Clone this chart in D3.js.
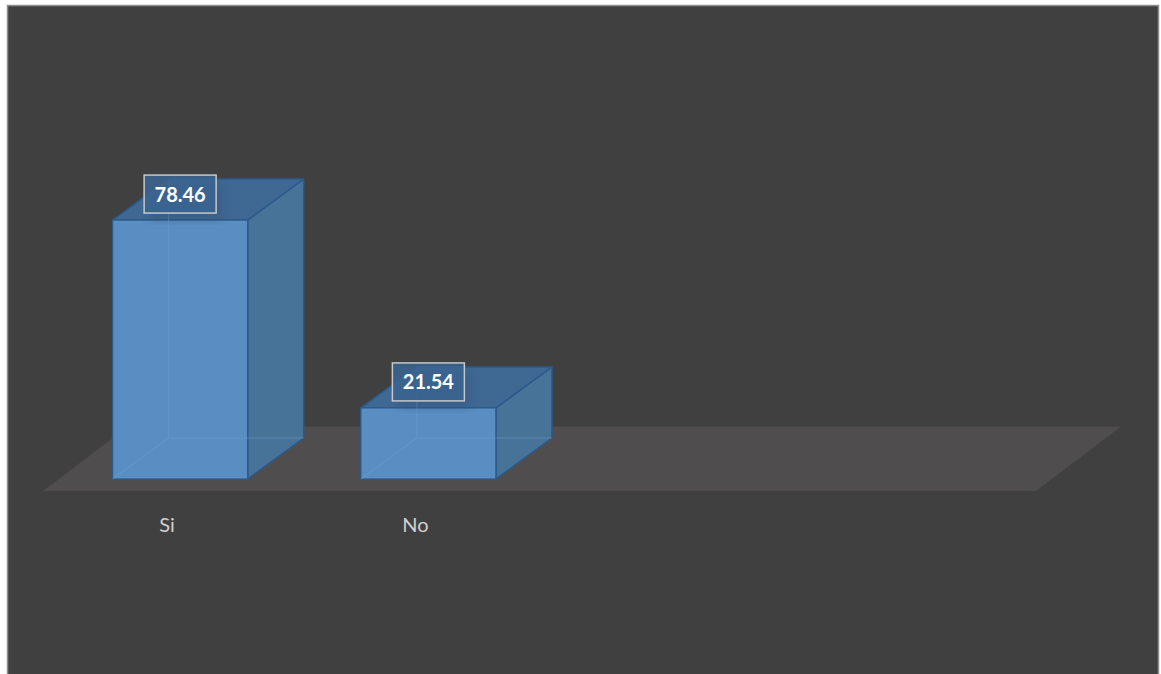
<!DOCTYPE html>
<html><head><meta charset="utf-8">
<script src="https://cdn.jsdelivr.net/npm/d3@7"></script>
<style>
html,body{margin:0;padding:0;background:#fff;}
svg{display:block;}
</style></head>
<body>
<script>
const categories = ["Si", "No", "", ""];
const values = [78.46, 21.54, null, null];
const labels = ["78.46", "21.54", null, null];

const W = 1161, H = 674;
const svg = d3.select("body").append("svg").attr("width", W).attr("height", H);

// chart area background and border
svg.append("rect").attr("x", 7.5).attr("y", 5.5).attr("width", 1151).attr("height", 672)
  .attr("fill", "#404040").attr("stroke", "#8f8f8f").attr("stroke-width", 1.5);

// scales
const x = d3.scaleBand().domain(d3.range(categories.length)).range([43, 1036]).paddingInner(0).paddingOuter(0);
const y = d3.scaleLinear().domain([0, 100]).range([479, 149]);

// floor
const floorFront = 491, floorDX = 85, floorDY = -64.5;
const x0 = x.range()[0], x1 = x.range()[1];
svg.append("polygon")
  .attr("points", [[x0, floorFront], [x1, floorFront], [x1 + floorDX, floorFront + floorDY], [x0 + floorDX, floorFront + floorDY]].map(p => p.join(",")).join(" "))
  .attr("fill", "#4f4d4e");

// bars
const barW = 135, bdx = 56, bdy = -41, shiftX = 13;
const edge = "#2c5a8a";
const g = svg.append("g");
values.forEach((v, i) => {
  if (v == null) return;
  const cx = x(i) + x.bandwidth() / 2 + shiftX;
  const L = cx - barW / 2, R = cx + barW / 2;
  const T = y(v), B = y(0);
  const bar = g.append("g");
  // back / hidden faces (faint)
  bar.append("polygon")
    .attr("points", [[L + bdx, T + bdy], [R + bdx, T + bdy], [R + bdx, B + bdy], [L + bdx, B + bdy]].map(p => p.join(",")).join(" "))
    .attr("fill", "#4a78a6").attr("stroke", "none");
  // side face
  bar.append("polygon")
    .attr("points", [[R, T], [R + bdx, T + bdy], [R + bdx, B + bdy], [R, B]].map(p => p.join(",")).join(" "))
    .attr("fill", "#487399").attr("stroke", edge).attr("stroke-width", 1.5).attr("stroke-linejoin", "round");
  // top face
  bar.append("polygon")
    .attr("points", [[L, T], [R, T], [R + bdx, T + bdy], [L + bdx, T + bdy]].map(p => p.join(",")).join(" "))
    .attr("fill", "#3f6893").attr("stroke", edge).attr("stroke-width", 1.5).attr("stroke-linejoin", "round");
  // front face
  bar.append("rect").attr("x", L).attr("y", T).attr("width", barW).attr("height", B - T)
    .attr("fill", "#5a8ec3").attr("stroke", edge).attr("stroke-width", 1.5);
  // hidden edges seen through
  bar.append("path")
    .attr("d", `M${L},${B}L${L + bdx},${B + bdy}L${R + bdx},${B + bdy}M${L + bdx},${B + bdy}L${L + bdx},${T + bdy}`)
    .attr("fill", "none").attr("stroke", "#6a9fd2").attr("stroke-opacity", 0.45).attr("stroke-width", 1.2);
  bar.append("rect").attr("x", L + 1).attr("y", T + 1).attr("width", barW - 2).attr("height", B - T - 2)
    .attr("fill", "none").attr("stroke", "#6a9fd2").attr("stroke-opacity", 0.25);
});

// data labels
values.forEach((v, i) => {
  if (v == null) return;
  const cx = x(i) + x.bandwidth() / 2 + shiftX;
  const cy = y(v) - 26;
  const bw = 72, bh = 38;
  // soft shadow
  svg.append("rect").attr("x", cx - bw / 2 + 6).attr("y", cy - bh / 2 + 8).attr("width", bw).attr("height", bh)
    .attr("fill", "#2d4f73").attr("opacity", 0.35).attr("filter", "url(#blur)");
  svg.append("rect").attr("x", cx - bw / 2).attr("y", cy - bh / 2).attr("width", bw).attr("height", bh)
    .attr("fill", "#3b6590").attr("fill-opacity", 0.85).attr("stroke", "#c4c8cc").attr("stroke-width", 1.5);
  svg.append("text").attr("x", cx).attr("y", cy + 7.5).attr("text-anchor", "middle")
    .attr("font-family", "Lato, 'Open Sans', sans-serif").attr("font-weight", "bold").attr("font-size", 20)
    .attr("fill", "#ffffff").text(labels[i]);
});
const defs = svg.append("defs");
defs.append("filter").attr("id", "blur").append("feGaussianBlur").attr("stdDeviation", 4);

// category axis labels
const axis = d3.axisBottom(x).tickSize(0).tickFormat(i => categories[i]);
const ag = svg.append("g").attr("transform", `translate(0, ${floorFront + 20})`).call(axis);
ag.select(".domain").remove();
ag.selectAll("text").attr("font-family", "Lato, 'Open Sans', sans-serif").attr("font-size", 20)
  .attr("fill", "#d0d0d0").attr("dy", "0.9em");
</script>
</body></html>
